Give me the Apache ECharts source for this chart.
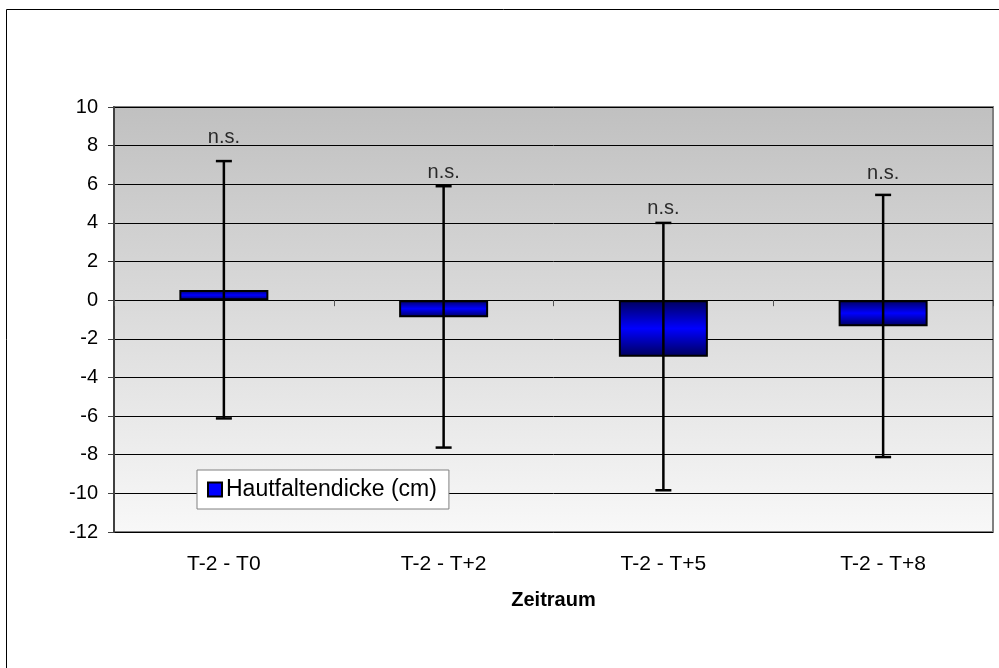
<!DOCTYPE html>
<html>
<head>
<meta charset="utf-8">
<script src="https://cdn.jsdelivr.net/npm/echarts@6/dist/echarts.min.js"></script>
<style>
  html, body { margin: 0; padding: 0; background: #fff; }
  #chart { width: 999px; height: 668px; }
</style>
</head>
<body>
<div id="chart"></div>
<script>
// data
var categories = ['T-2 - T0', 'T-2 - T+2', 'T-2 - T+5', 'T-2 - T+8'];
var meanValues = [0.53, -0.88, -2.93, -1.35];
var errLow = [-6.12, -7.63, -9.84, -8.12];
var errHigh = [7.2, 5.9, 4.0, 5.45];
var sigLabels = ['n.s.', 'n.s.', 'n.s.', 'n.s.'];
var sigLabelY = [8.44, 6.6, 4.75, 6.57];
var seriesName = 'Hautfaltendicke (cm)';

var font = '"Liberation Sans", Arial, sans-serif';

var chart = echarts.init(document.getElementById('chart'));

var errData = categories.map(function (c, i) { return [i, errLow[i], errHigh[i]]; });
var sigData = categories.map(function (c, i) { return [i, sigLabelY[i], sigLabels[i]]; });

chart.setOption({
  animation: false,
  textStyle: { fontFamily: font },
  graphic: [{
    type: 'rect',
    shape: { x: 6.5, y: 9.5, width: 1100, height: 800 },
    style: { fill: null, stroke: '#000', lineWidth: 1 },
    z: 0
  }],
  grid: {
    left: 114, top: 107, right: 6, bottom: 136,
    show: true,
    backgroundColor: new echarts.graphic.LinearGradient(0, 0, 0, 1, [
      { offset: 0, color: '#c0c0c0' },
      { offset: 1, color: '#f8f8f8' }
    ]),
    borderColor: '#808080',
    borderWidth: 2
  },
  legend: {
    left: 197, top: 470,
    orient: 'horizontal',
    backgroundColor: '#fff',
    borderColor: '#808080',
    borderWidth: 1,
    borderRadius: 0,
    padding: [8, 12, 8, 10],
    itemWidth: 14, itemHeight: 14,
    itemGap: 5,
    textStyle: { fontSize: 23, color: '#000', fontFamily: font, padding: [0, 0, 0, -1] },
    data: [{
      name: seriesName,
      icon: 'rect',
      itemStyle: { color: '#0000ff', borderColor: '#000', borderWidth: 2 }
    }]
  },
  xAxis: [{
    type: 'category',
    data: categories,
    position: 'bottom',
    axisLine: { show: false, onZero: false },
    axisTick: { show: false },
    axisLabel: { fontSize: 21, color: '#000', margin: 22, fontFamily: font },
    splitLine: { show: false },
    name: 'Zeitraum',
    nameLocation: 'middle',
    nameGap: 58,
    nameTextStyle: { fontSize: 20, fontWeight: 'bold', color: '#000', fontFamily: font }
  }, {
    type: 'category',
    data: categories,
    position: 'bottom',
    axisLine: { show: true, onZero: true, lineStyle: { color: '#000', width: 1 } },
    axisTick: { show: true, inside: false, length: 6, lineStyle: { color: '#555', width: 1 } },
    axisLabel: { show: false },
    splitLine: { show: false }
  }],
  yAxis: {
    type: 'value',
    min: -12, max: 10, interval: 2,
    axisLine: { show: true, lineStyle: { color: '#404040', width: 2 } },
    axisTick: { show: true, inside: false, length: 6, lineStyle: { color: '#404040', width: 1 } },
    axisLabel: { fontSize: 20, color: '#000', margin: 16, fontFamily: font },
    splitLine: { show: true, lineStyle: { color: '#000', width: 1 } }
  },
  series: [{
    name: seriesName,
    type: 'bar',
    xAxisIndex: 0,
    data: meanValues,
    barWidth: '40.5%',
    itemStyle: {
      color: new echarts.graphic.LinearGradient(0, 0, 0, 1, [
        { offset: 0, color: '#00005a' },
        { offset: 0.5, color: '#0000ff' },
        { offset: 1, color: '#00005a' }
      ]),
      borderColor: '#000',
      borderWidth: 2
    },
    z: 3
  }, {
    type: 'custom',
    name: 'err',
    xAxisIndex: 0,
    data: errData,
    z: 4,
    renderItem: function (params, api) {
      var lo = api.coord([api.value(0), api.value(1)]);
      var hi = api.coord([api.value(0), api.value(2)]);
      var hw = 8;
      var st = { stroke: '#000', lineWidth: 2.5 };
      return {
        type: 'group',
        children: [
          { type: 'line', shape: { x1: hi[0], y1: hi[1], x2: lo[0], y2: lo[1] }, style: st },
          { type: 'line', shape: { x1: hi[0] - hw, y1: hi[1], x2: hi[0] + hw, y2: hi[1] }, style: st },
          { type: 'line', shape: { x1: lo[0] - hw, y1: lo[1], x2: lo[0] + hw, y2: lo[1] }, style: st }
        ]
      };
    }
  }, {
    type: 'scatter',
    name: 'sig',
    xAxisIndex: 0,
    data: sigData,
    symbolSize: 0,
    silent: true,
    z: 5,
    label: {
      show: true,
      position: 'inside',
      formatter: function (p) { return p.value[2]; },
      fontSize: 20,
      color: '#000',
      fontFamily: font
    }
  }]
});
</script>
</body>
</html>
